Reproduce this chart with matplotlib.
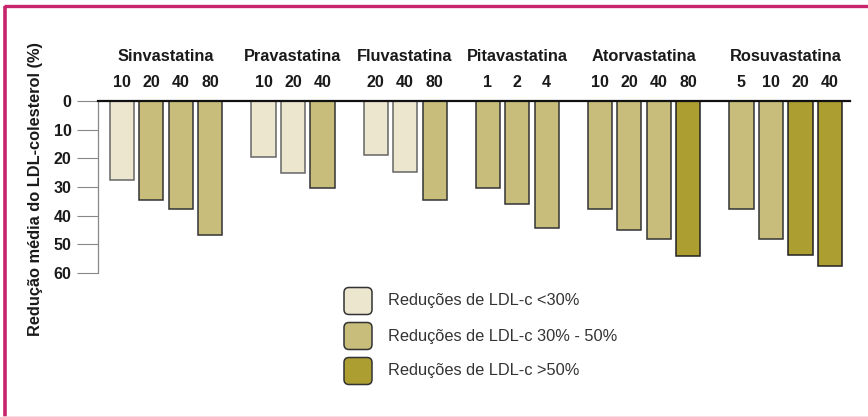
import matplotlib
matplotlib.use("Agg")
import matplotlib.pyplot as plt
from matplotlib.patches import FancyBboxPatch

# ---- data ----
drugs = ["Sinvastatina", "Pravastatina", "Fluvastatina", "Pitavastatina", "Atorvastatina", "Rosuvastatina"]
doses = [["10", "20", "40", "80"], ["10", "20", "40"], ["20", "40", "80"], ["1", "2", "4"],
         ["10", "20", "40", "80"], ["5", "10", "20", "40"]]
reductions = [[27.5, 34.7, 37.7, 46.6], [19.7, 25.0, 30.4], [19.0, 24.6, 34.7], [30.4, 35.8, 44.4],
              [37.5, 45.0, 48.3, 54.1], [37.7, 48.0, 53.8, 57.5]]
# category: 0 = <30%, 1 = 30-50%, 2 = >50%
categories = [[0, 1, 1, 1], [0, 0, 1], [0, 0, 1], [1, 1, 1], [1, 1, 1, 2], [1, 1, 2, 2]]
legend_labels = ["Reduções de LDL-c <30%", "Reduções de LDL-c 30% - 50%", "Reduções de LDL-c >50%"]
yticks = [0, 10, 20, 30, 40, 50, 60]
ylabel = "Redução média do LDL-colesterol (%)"

colors = ["#ECE6CF", "#C8BD7A", "#AC9E30"]
edges = ["#666666", "#333333", "#222222"]

W, H = 868, 417
fig = plt.figure(figsize=(W / 100, H / 100), dpi=100)
fig.patch.set_facecolor("white")

# main axes in pixel geometry
ax_l, ax_r, ax_t, ax_b = 98, 850, 101, 273
ax = fig.add_axes([ax_l / W, 1 - ax_b / H, (ax_r - ax_l) / W, (ax_b - ax_t) / H])

group_gap = 1.8
bar_w = 0.82
pos = 0.0
font = "Liberation Sans"
for gi, (drug, ds, vals, cats) in enumerate(zip(drugs, doses, reductions, categories)):
    xs = [pos + i for i in range(len(vals))]
    for x, v, c, d in zip(xs, vals, cats, ds):
        ax.bar(x, v, width=bar_w, bottom=0, color=colors[c], edgecolor=edges[c], linewidth=1.1, zorder=2)
        ax.text(x, 1.11, d, transform=ax.get_xaxis_transform(), ha="center", va="center",
                fontsize=11.5, fontweight="bold", family=font, color="#1a1a1a")
    ax.text((xs[0] + xs[-1]) / 2, 1.258, drug, transform=ax.get_xaxis_transform(), ha="center",
            va="center", fontsize=11.8, fontweight="bold", family=font, color="#1a1a1a")
    pos = xs[-1] + group_gap

ax.set_xlim(-0.81, 24.68)
ax.set_ylim(60, 0)
ax.set_xticks([])
ax.set_yticks(yticks)
ax.set_yticklabels([str(t) for t in yticks], fontsize=11.5, fontweight="bold", family=font, color="#1a1a1a")
ax.tick_params(axis="y", length=15, width=0.8, color="#888888", pad=4)
for s in ["right", "bottom"]:
    ax.spines[s].set_visible(False)
ax.spines["left"].set_color("#888888")
ax.spines["left"].set_linewidth(0.9)
ax.spines["top"].set_color("#111111")
ax.spines["top"].set_linewidth(1.6)
ax.spines["top"].set_zorder(3)
ax.patch.set_alpha(0)

# overlay axes in pixel coordinates
ov = fig.add_axes([0, 0, 1, 1], zorder=-1)
ov.set_xlim(0, W)
ov.set_ylim(H, 0)
ov.axis("off")
ov.plot([5, 5], [6, 417], color="#C8246C", lw=2.6, solid_capstyle="butt")
ov.plot([4, 868], [6, 6], color="#C8246C", lw=2.4, solid_capstyle="butt")
ov.plot([4, 868], [416.5, 416.5], color="#F6D8E4", lw=1.2)

fig.text(36 / W, 1 - 189 / H, ylabel, rotation=90, ha="center", va="center", fontsize=11.8,
         fontweight="bold", family=font, color="#1a1a1a")

# legend
leg_ov = fig.add_axes([0, 0, 1, 1], zorder=5)
leg_ov.set_xlim(0, W)
leg_ov.set_ylim(H, 0)
leg_ov.axis("off")
rows_y = [301, 336, 371]
for i, (lab, yc) in enumerate(zip(legend_labels, rows_y)):
    box = FancyBboxPatch((344, yc - 13.5), 28, 27, boxstyle="round,pad=0,rounding_size=5",
                         facecolor=colors[i], edgecolor="#333333", linewidth=1.1)
    leg_ov.add_patch(box)
    leg_ov.text(388, yc, lab, ha="left", va="center", fontsize=11.8, family=font, color="#333333")

fig.savefig("out.png", dpi=100)
